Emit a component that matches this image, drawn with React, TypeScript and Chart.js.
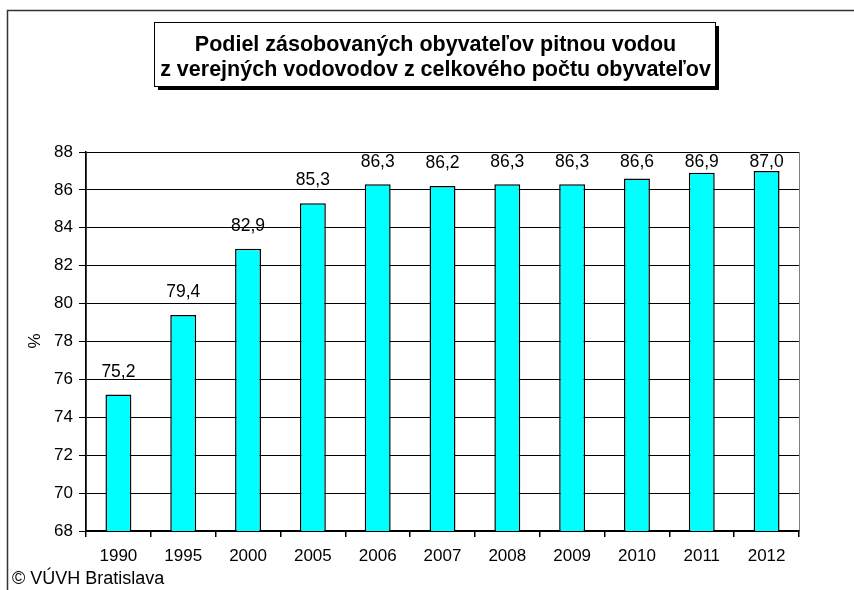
import React, { useEffect, useRef } from "react";
import { Chart, registerables } from "chart.js";

Chart.register(...registerables);

const categories = ["1990", "1995", "2000", "2005", "2006", "2007", "2008", "2009", "2010", "2011", "2012"];
const values = [75.2, 79.4, 82.9, 85.3, 86.3, 86.2, 86.3, 86.3, 86.6, 86.9, 87.0];
const titleLines = ["Podiel zásobovaných obyvateľov pitnou vodou", "z verejných vodovodov z celkového počtu obyvateľov"];
const yAxisLabel = "%";
const credit = "© VÚVH Bratislava";
const yMin = 68;
const yMax = 88;
const yStep = 2;

const FONT = "'Liberation Sans', Arial, sans-serif";

const decorPlugin = {
  id: "decor",
  beforeDraw(chart: any) {
    const ctx = chart.ctx;
    const ca = chart.chartArea;
    ctx.save();
    ctx.fillStyle = "#ffffff";
    ctx.fillRect(0, 0, chart.width, chart.height);
    // outer frame
    ctx.strokeStyle = "#333333";
    ctx.lineWidth = 1.5;
    ctx.beginPath();
    ctx.moveTo(7.5, 590);
    ctx.lineTo(7.5, 10.5);
    ctx.lineTo(854, 10.5);
    ctx.stroke();
    // plot area border (grey)
    ctx.strokeStyle = "#808080";
    ctx.lineWidth = 1;
    ctx.strokeRect(ca.left + 0.5, ca.top + 0.5, ca.right - ca.left, ca.bottom - ca.top);
    ctx.restore();
  },
  afterDraw(chart: any) {
    const ctx = chart.ctx;
    const ca = chart.chartArea;
    ctx.save();
    // title box with shadow
    const bx = 154, by = 22, bw = 561, bh = 64;
    ctx.fillStyle = "#000000";
    ctx.fillRect(bx + 4, by + 4, bw, bh);
    ctx.fillStyle = "#ffffff";
    ctx.fillRect(bx, by, bw, bh);
    ctx.strokeStyle = "#000000";
    ctx.lineWidth = 1;
    ctx.strokeRect(bx + 0.5, by + 0.5, bw, bh);
    ctx.fillStyle = "#000000";
    ctx.font = `bold 21.5px ${FONT}`;
    ctx.textAlign = "center";
    ctx.textBaseline = "middle";
    ctx.fillText(titleLines[0], bx + bw / 2 + 1, 45);
    ctx.fillText(titleLines[1], bx + bw / 2 + 1, 70);
    // y axis label
    ctx.font = `17px ${FONT}`;
    ctx.save();
    ctx.translate(35, 341);
    ctx.rotate(-Math.PI / 2);
    ctx.fillText(yAxisLabel, 0, 0);
    ctx.restore();
    // credit
    ctx.font = `18px ${FONT}`;
    ctx.textAlign = "left";
    ctx.fillText(credit, 12, 579);
    // data labels
    const meta = chart.getDatasetMeta(0);
    ctx.font = `17.5px ${FONT}`;
    ctx.textAlign = "center";
    ctx.textBaseline = "alphabetic";
    meta.data.forEach((bar: any, i: number) => {
      const v = chart.data.datasets[0].data[i] as number;
      const y = Math.max(bar.y - 18, ca.top + 15);
      ctx.fillText(v.toFixed(1).replace(".", ","), bar.x, y);
    });
    ctx.restore();
  },
};

export default function App() {
  const ref = useRef<HTMLCanvasElement | null>(null);
  useEffect(() => {
    if (!ref.current) return;
    const chart = new Chart(ref.current, {
      type: "bar",
      data: {
        labels: categories,
        datasets: [
          {
            data: values,
            backgroundColor: "#00FFFF",
            borderColor: "#000000",
            borderWidth: 1.5,
            barPercentage: 0.4,
            categoryPercentage: 1,
          },
        ],
      },
      options: {
        responsive: false,
        animation: false,
        devicePixelRatio: 1,
        layout: { padding: { top: 152, right: 55, left: 0, bottom: 0 } },
        plugins: { legend: { display: false }, title: { display: false }, tooltip: { enabled: false } },
        scales: {
          x: {
            offset: true,
            grid: { offset: true, drawOnChartArea: false, drawTicks: true, tickLength: 6, color: "#000000", lineWidth: 1.5 },
            border: { color: "#000000", width: 1.5 },
            ticks: { color: "#000000", font: { family: FONT, size: 17 }, padding: 9, maxRotation: 0 },
            afterFit: (s: any) => { s.height = 59; },
          },
          y: {
            min: yMin,
            max: yMax,
            grid: { color: "#000000", lineWidth: 1, drawTicks: true, tickLength: 7 },
            border: { color: "#000000", width: 1.5 },
            ticks: { stepSize: yStep, color: "#000000", font: { family: FONT, size: 17 }, padding: 6 },
            afterFit: (s: any) => { s.width = 86; },
          },
        },
      },
      plugins: [decorPlugin],
    });
    return () => chart.destroy();
  }, []);
  return (
    <div style={{ position: "fixed", left: 0, top: 0, width: 854, height: 590, background: "#fff" }}>
      <canvas ref={ref} width={854} height={590} style={{ display: "block" }} />
    </div>
  );
}
